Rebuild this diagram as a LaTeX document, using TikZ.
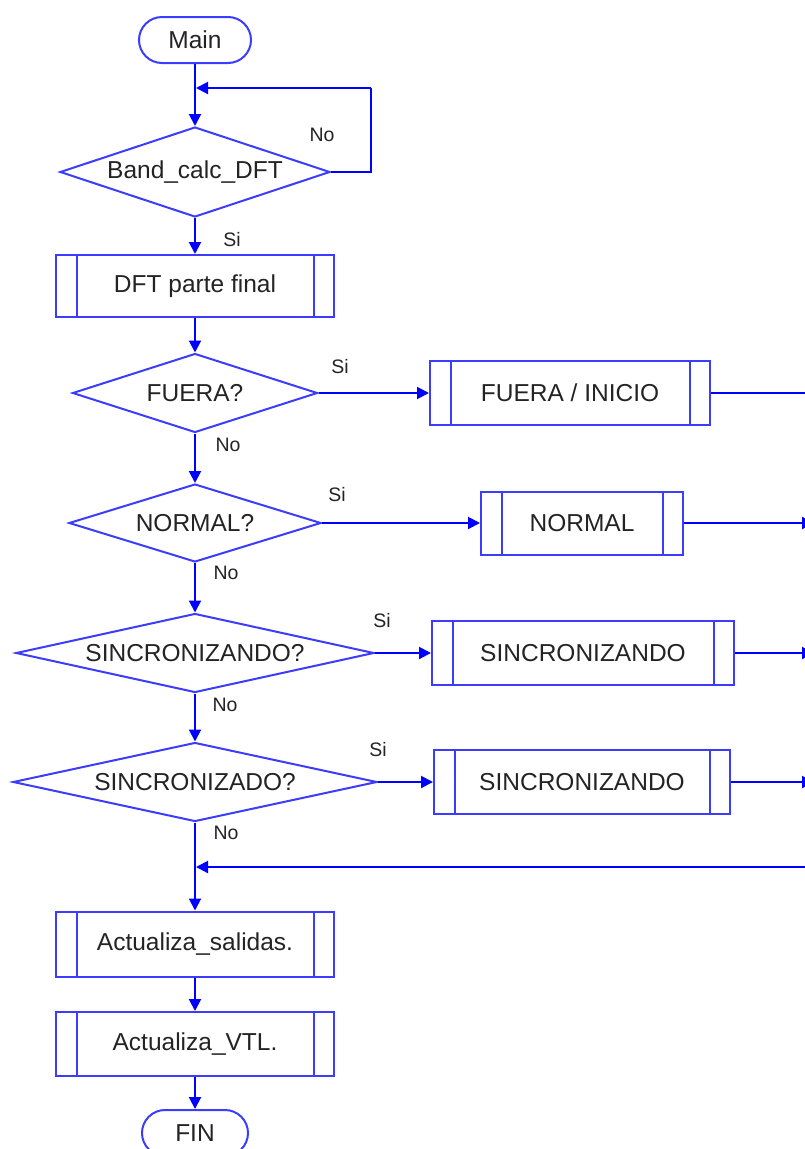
\documentclass[tikz,border=0pt]{standalone}
\usepackage{fontspec}
\setmainfont{Liberation Sans}
\usetikzlibrary{shapes.geometric,arrows.meta}
\definecolor{flowblue}{RGB}{0,0,255}
\definecolor{boxblue}{RGB}{60,60,255}
\definecolor{ink}{RGB}{35,35,35}
\begin{document}
\begin{tikzpicture}[x=1pt,y=-1pt,
  line/.style={draw=flowblue, line width=2pt},
  arr/.style={line, -{Triangle[length=12pt,width=12pt]}},
  mainfont/.style={font=\fontsize{24.5}{28}\selectfont, text=ink},
  term/.style={draw=boxblue, line width=2pt, rounded corners=23pt,
    minimum height=46pt, inner sep=0pt, mainfont},
  decision/.style={diamond, draw=boxblue, line width=2pt, inner sep=0pt,
    mainfont},
  subproc/.style={rectangle, draw=boxblue, line width=2pt, inner sep=0pt,
    mainfont},
  lbl/.style={text=ink, font=\fontsize{19.5}{22}\selectfont, inner sep=0pt}
]
\useasboundingbox (0,0) rectangle (805,1149);

% main column
\node[term, minimum width=112pt] (main) at (195,40) {Main};
\node[decision, minimum width=270pt, minimum height=90pt, aspect=3] (d1) at (195,172) {Band\_calc\_DFT};
\node[subproc, minimum width=278pt, minimum height=62pt] (dft) at (195,286) {DFT parte final};
\node[decision, minimum width=245pt, minimum height=79pt, aspect=3.1] (d2) at (195,393) {FUERA?};
\node[decision, minimum width=252pt, minimum height=78pt, aspect=3.23] (d3) at (195,523) {NORMAL?};
\node[decision, minimum width=358pt, minimum height=79pt, aspect=4.53] (d4) at (195,653) {SINCRONIZANDO?};
\node[decision, minimum width=364pt, minimum height=79pt, aspect=4.61] (d5) at (195,782) {SINCRONIZADO?};
\node[subproc, minimum width=278pt, minimum height=65pt] (act1) at (195,944) {Actualiza\_salidas.};
\node[subproc, minimum width=278pt, minimum height=64pt] (act2) at (195,1044) {Actualiza\_VTL.};
\node[term, minimum width=106pt] (fin) at (195,1133) {FIN};

% branch column
\node[subproc, minimum width=280pt, minimum height=64pt] (fuera) at (570,393) {FUERA / INICIO};
\node[subproc, minimum width=202pt, minimum height=63pt] (normal) at (582,523) {NORMAL};
\node[subproc, minimum width=302pt, minimum height=64pt] (sinc1) at (583,653) {SINCRONIZANDO};
\node[subproc, minimum width=296pt, minimum height=64pt] (sinc2) at (582,782) {SINCRONIZANDO};

% inner bars of the subprocess boxes
\foreach \n in {dft,fuera,normal,sinc1,sinc2,act1,act2}{
  \draw[draw=boxblue, line width=2pt]
    ([xshift=21.5pt]\n.north west) -- ([xshift=21.5pt]\n.south west)
    ([xshift=-21.5pt]\n.north east) -- ([xshift=-21.5pt]\n.south east);
}

% free ends of connectors
\coordinate (loopR) at (371,172);
\coordinate (loopT) at (371,88);
\coordinate (loopIn) at (196,88);
\coordinate (fueraOut) at (814,393);
\coordinate (normalOut) at (814,523);
\coordinate (sinc1Out) at (814,653);
\coordinate (sinc2Out) at (814,782);
\coordinate (retIn) at (814,867);
\coordinate (retEnd) at (196,867);

% connectors
\draw[arr] (main) -- (d1);
\draw[line] (d1.east) -- (loopR) -- (loopT);
\draw[arr] (loopT) -- (loopIn);
\draw[arr] (d1) -- (dft);
\draw[arr] (dft) -- (d2);
\draw[arr] (d2) -- (d3);
\draw[arr] (d3) -- (d4);
\draw[arr] (d4) -- (d5);
\draw[arr] (d5) -- (act1);
\draw[arr] (act1) -- (act2);
\draw[arr] (act2) -- (fin);

\draw[arr] (d2.east) -- (fuera.west);
\draw[arr] (d3.east) -- (normal.west);
\draw[arr] (d4.east) -- (sinc1.west);
\draw[arr] (d5.east) -- (sinc2.west);
\draw[line] (fuera.east) -- (fueraOut);
\draw[arr] (normal.east) -- (normalOut);
\draw[arr] (sinc1.east) -- (sinc1Out);
\draw[arr] (sinc2.east) -- (sinc2Out);
\draw[arr] (retIn) -- (retEnd);

% branch labels
\node[lbl] (l1) at (322,135) {No};
\node[lbl] (l2) at (232,240) {Si};
\node[lbl] (l3) at (340,367) {Si};
\node[lbl] (l4) at (228,445) {No};
\node[lbl] (l5) at (337,495) {Si};
\node[lbl] (l6) at (226,573) {No};
\node[lbl] (l7) at (382,621) {Si};
\node[lbl] (l8) at (225,705) {No};
\node[lbl] (l9) at (378,750) {Si};
\node[lbl] (l10) at (226,833) {No};
\end{tikzpicture}
\end{document}
